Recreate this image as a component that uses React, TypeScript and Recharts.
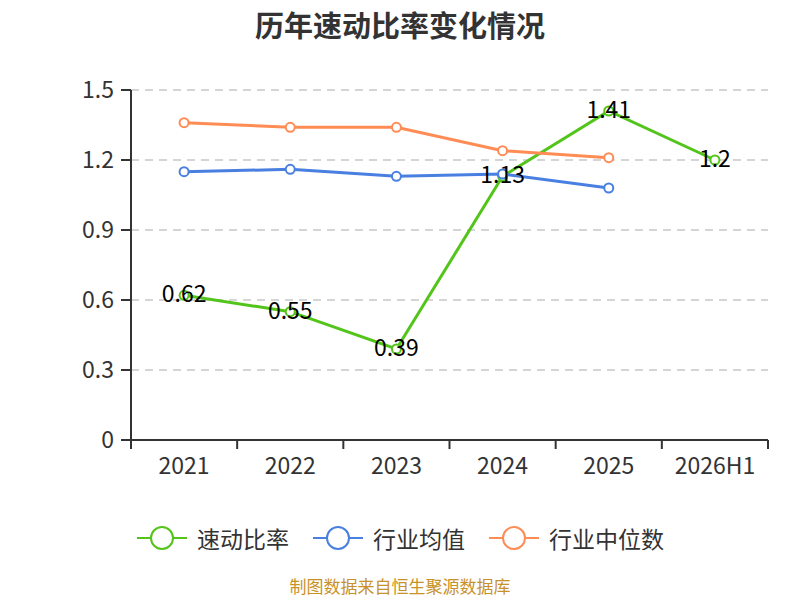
import React from "react";
import { LineChart, Line, XAxis, YAxis, CartesianGrid, LabelList } from "recharts";

const years = ["2021", "2022", "2023", "2024", "2025", "2026H1"];
const quickRatio = [0.62, 0.55, 0.39, 1.13, 1.41, 1.2];
const industryAvg = [1.15, 1.16, 1.13, 1.14, 1.08, null];
const industryMedian = [1.36, 1.34, 1.34, 1.24, 1.21, null];
const yTicks = [0, 0.3, 0.6, 0.9, 1.2, 1.5];

const series = [
  { key: "quick", name: "速动比率", color: "#52c41a" },
  { key: "avg", name: "行业均值", color: "#4a7fe2" },
  { key: "median", name: "行业中位数", color: "#ff8c55" },
];

const data = years.map((year, i) => ({
  year,
  quick: quickRatio[i],
  avg: industryAvg[i],
  median: industryMedian[i],
}));

const FONT = '"Noto Sans CJK SC", "Noto Sans", sans-serif';
const PLOT_LEFT = 131;
const PLOT_RIGHT = 768;
const PLOT_BOTTOM = 440;
const BAND = (PLOT_RIGHT - PLOT_LEFT) / years.length;

// ticks sit on the category boundaries, labels in the middle
const XTick = (props: any) => {
  const { x, payload, index } = props;
  return (
    <g>
      <line x1={x - BAND / 2} y1={PLOT_BOTTOM} x2={x - BAND / 2} y2={PLOT_BOTTOM + 9} stroke="#333" strokeWidth={2} />
      {index === years.length - 1 && (
        <line x1={x + BAND / 2} y1={PLOT_BOTTOM} x2={x + BAND / 2} y2={PLOT_BOTTOM + 9} stroke="#333" strokeWidth={2} />
      )}
      <text x={x} y={PLOT_BOTTOM + 34} textAnchor="middle" fontSize={23} fill="#333" fontFamily={FONT}>
        {payload.value}
      </text>
    </g>
  );
};

const PointLabel = (props: any) => {
  const { x, y, value } = props;
  return (
    <text x={x} y={y + 7} textAnchor="middle" fontSize={23} fill="#000" fontFamily={FONT}>
      {value}
    </text>
  );
};

const LegendBar = () => (
  <div
    style={{
      position: "absolute",
      top: 524,
      width: 800,
      display: "flex",
      justifyContent: "center",
      fontFamily: FONT,
      fontSize: 23,
      color: "#333",
      lineHeight: "28px",
    }}
  >
    {series.map((s, i) => (
      <div key={s.key} style={{ display: "flex", alignItems: "center", marginLeft: i ? 23 : 0 }}>
        <svg width={52} height={28} style={{ marginRight: 9 }}>
          <line x1={1} y1={14} x2={51} y2={14} stroke={s.color} strokeWidth={2} />
          <circle cx={26} cy={14} r={11} fill="#fff" stroke={s.color} strokeWidth={2} />
        </svg>
        <span>{s.name}</span>
      </div>
    ))}
  </div>
);

export default function App() {
  return (
    <div style={{ position: "absolute", left: 0, top: 0, width: 800, height: 600, background: "#fff", overflow: "hidden" }}>
      <div
        style={{
          position: "absolute",
          top: 3,
          width: 800,
          textAlign: "center",
          fontFamily: FONT,
          fontSize: 29,
          fontWeight: "bold",
          color: "#333",
        }}
      >
        历年速动比率变化情况
      </div>
      <LineChart
        width={800}
        height={600}
        data={data}
        margin={{ top: 90, right: 800 - PLOT_RIGHT, left: PLOT_LEFT - 60, bottom: 600 - PLOT_BOTTOM - 30 }}
      >
        <CartesianGrid vertical={false} stroke="#c8c8c8" strokeDasharray="8 6" strokeWidth={1.5} />
        <XAxis
          dataKey="year"
          height={30}
          padding={{ left: BAND / 2, right: BAND / 2 }}
          tick={<XTick />}
          tickLine={false}
          axisLine={{ stroke: "#333", strokeWidth: 2 }}
          interval={0}
        />
        <YAxis
          width={60}
          domain={[0, 1.5]}
          ticks={yTicks}
          tick={{ fontSize: 23, fill: "#333", fontFamily: FONT }}
          tickSize={10}
          tickMargin={7}
          tickLine={{ stroke: "#333", strokeWidth: 2 }}
          axisLine={{ stroke: "#333", strokeWidth: 2 }}
        />
        {series.map((s) => (
          <Line
            key={s.key}
            dataKey={s.key}
            name={s.name}
            stroke={s.color}
            strokeWidth={3}
            dot={{ r: 4.5, fill: "#fff", stroke: s.color, strokeWidth: 2 }}
            activeDot={false}
            isAnimationActive={false}
          >
            {s.key === "quick" && <LabelList dataKey="quick" content={<PointLabel />} />}
          </Line>
        ))}
      </LineChart>
      <LegendBar />
      <div
        style={{
          position: "absolute",
          top: 576,
          width: 800,
          textAlign: "center",
          fontFamily: FONT,
          fontSize: 17,
          lineHeight: "20px",
          color: "#c8922a",
        }}
      >
        制图数据来自恒生聚源数据库
      </div>
    </div>
  );
}
